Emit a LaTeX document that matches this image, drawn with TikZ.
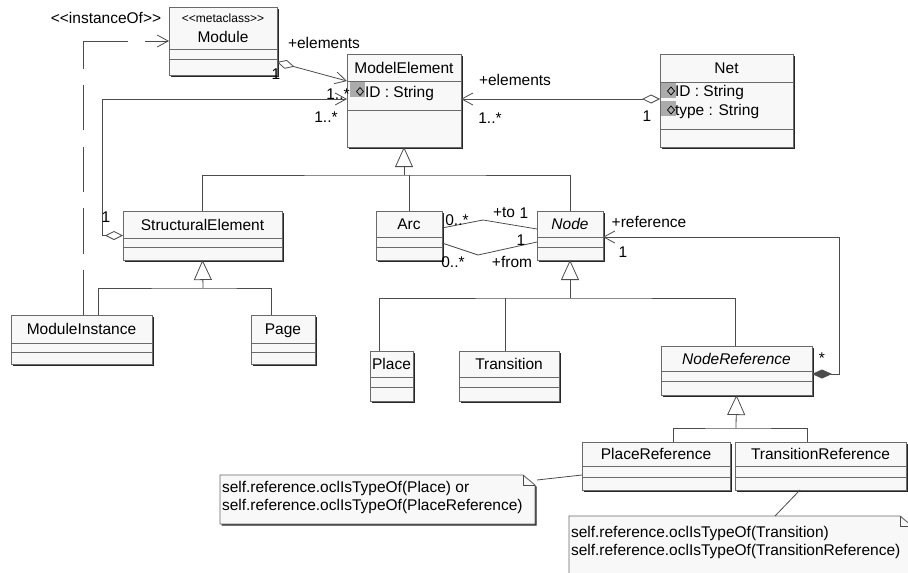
\documentclass[tikz,border=0pt]{standalone}
\usepackage{fontspec}
\setmainfont{Liberation Sans}
\usetikzlibrary{arrows.meta,fit,calc}

\definecolor{boxfill}{HTML}{F8F8F8}
\definecolor{boxline}{HTML}{6A6A6A}
\definecolor{wire}{HTML}{4C4C4C}
\definecolor{attrmark}{HTML}{ABABAB}

\newcommand{\umlfont}{\fontsize{15.5pt}{18pt}\selectfont}

\tikzset{
  classbox/.style={draw=boxline, fill=boxfill, line width=0.9pt, inner sep=0pt, outer sep=0pt},
  boxshadow/.style={fill=black!85},
  divider/.style={draw=boxline, line width=0.9pt},
  lbl/.style={inner sep=0pt, outer sep=0pt, text=black, font=\umlfont, text height=11pt, text depth=0pt},
  conn/.style={draw=wire, line width=0.8pt},
  gentip/.style={conn, -{Triangle[open, length=20pt, width=18pt]}},
  navtip/.style={conn, -{Straight Barb[length=11pt, width=12pt]}},
  aggnav/.style={conn, {Diamond[open, length=18pt, width=9pt]}-{Straight Barb[length=11pt, width=12pt]}},
  compnav/.style={conn, {Diamond[length=20pt, width=9pt]}-{Straight Barb[length=11pt, width=12pt]}},
  attrdiamond/.style={draw=black, line width=0.7pt},
  notebox/.style={draw=boxline, fill=boxfill, line width=0.9pt},
  hidden/.style={inner sep=0pt, outer sep=0pt},
}

% class box: name, left, top, right, bottom, first divider, second divider, title
\newcommand{\umlclass}[8]{%
  \fill[boxshadow] (#2+1.5,#3+1.5) rectangle (#4+1.5,#5+1.5);
  \node[classbox, fit={(#2,#3) (#4,#5)}] (#1) {};
  \draw[divider] (#2,#6) -- (#4,#6) (#2,#7) -- (#4,#7);
  \node[lbl] (#1-name) at ({(#2+#4)/2},{(#3+#6)/2}) {#8};
}

% note with folded corner: name, left, top, right, bottom
\newcommand{\umlnote}[5]{%
  \fill[boxshadow] (#2+1.5,#3+1.5) -- (#4-12+1.5,#3+1.5) -- (#4+1.5,#3+10+1.5) -- (#4+1.5,#5+1.5) -- (#2+1.5,#5+1.5) -- cycle;
  \draw[notebox] (#2,#3) -- (#4-12,#3) -- (#4,#3+10) -- (#4,#5) -- (#2,#5) -- cycle;
  \draw[conn, line width=0.7pt] (#4-12,#3) -- (#4-12,#3+10) -- (#4,#3+10);
  \node[hidden, fit={(#2,#3) (#4,#5)}] (#1) {};
}

% attribute marker: gray square with a small hollow diamond
\newcommand{\attrmark}[4]{%
  \fill[attrmark] (#1,#2) rectangle (#1+15,#2+15);
  \draw[attrdiamond] (#3-3.5,#4) -- (#3,#4-4) -- (#3+3.5,#4) -- (#3,#4+4) -- cycle;
}

\begin{document}
\begin{tikzpicture}[x=1pt, y=-1pt, font=\umlfont]
\useasboundingbox (0,0) rectangle (908,573);
\fill[white] (0,0) rectangle (908,573);
\clip (0,0) rectangle (908,573);

% ---- Module (metaclass) ----
\fill[boxshadow] (170.5,8.5) rectangle (278.5,76.5);
\node[classbox, fit={(169,7) (277,75)}] (module) {};
\draw[divider] (169,49) -- (277,49) (169,59) -- (277,59);
\node[lbl, font=\fontsize{12pt}{14pt}\selectfont, text height=8.5pt] (module-st) at (223,18) {<{}<metaclass>{}>};
\node[lbl] (module-name) at (223,37) {Module};

% ---- classes ----
\umlclass{me}{347}{54}{461}{147}{81}{110}{ModelElement}
\umlclass{net}{660}{54}{793}{147}{82}{129}{Net}
\umlclass{se}{123}{211}{282}{260}{238}{247}{StructuralElement}
\umlclass{arc}{376}{211}{442}{260}{237}{247}{Arc}
\umlclass{node}{537}{211}{603}{260}{237}{247}{\itshape Node}
\umlclass{mi}{11}{315}{152}{364}{343}{352}{ModuleInstance}
\umlclass{page}{251}{315}{315}{364}{343}{352}{Page}
\umlclass{place}{370}{351}{413}{401}{377}{387}{Place}
\umlclass{trans}{459}{351}{559}{401}{377}{387}{Transition}
\umlclass{nref}{661}{346}{812}{395}{371}{381}{\itshape NodeReference}
\umlclass{pref}{582}{442}{730}{490}{466}{477}{PlaceReference}
\umlclass{tref}{735}{442}{906}{490}{466}{477}{TransitionReference}

% ---- attributes ----
\attrmark{350}{82}{360}{91.5}
\node[lbl, anchor=west] (me-id) at (365,92) {ID : String};
\attrmark{661}{83}{671}{91}
\node[lbl, anchor=west] (net-id) at (675,91) {ID : String};
\attrmark{661}{101}{671}{110}
\node[lbl, anchor=west] (net-type) at (675,110) {type : String};

% ---- instanceOf dependency ----
\node[lbl] (inst-lbl) at (106,18) {<{}<instanceOf>{}>};
\coordinate (instTurn) at (83,41);
\draw[conn, dash pattern=on 28pt off 16pt on 45pt off 17pt on 45pt off 16pt on 46pt off 16pt on 80pt off 1pt]
  (instTurn) -- (instTurn |- mi.north);
\draw[navtip, dash pattern=on 45pt off 17pt on 60pt off 1pt]
  (instTurn) -- (instTurn -| module.west);

% ---- associations to ModelElement ----
\draw[aggnav] ($(module.north east)+(0,55)$) -- ($(me.north west)+(0,27)$);
\node[lbl] (mod-role) at (324,43) {+elements};
\node[lbl] (mod-one) at (276,74) {1};
\node[lbl] (mod-many) at (338,94) {1..*};

\draw[aggnav] ($(net.north west)+(0,45)$) -- ($(me.north east)+(0,45)$);
\node[lbl] (net-role) at (515,80) {+elements};
\node[lbl] (net-many) at (490,118) {1..*};
\node[lbl] (net-one) at (647,116) {1};

\coordinate (seTurn) at (102,99);
\draw[aggnav] (se.west) -| (seTurn) -- (seTurn -| me.west);
\node[lbl] (se-one) at (106,217) {1};
\node[lbl] (se-many) at (326,117) {1..*};

% ---- generalizations ----
\coordinate (g1) at (404,175);
\draw[gentip] (g1) -- (me.south);
\draw[conn] (se.north) |- (g1) -| (node.north);
\draw[conn] (arc.north) -- (arc.north |- g1);

\coordinate (g2) at (203,288);
\draw[gentip] (g2) -- (se.south);
\draw[conn] ($(mi.north west)+(87,0)$) |- (g2) -| ($(page.north west)+(20,0)$);

\coordinate (g3) at (570,298);
\draw[gentip] (g3) -- (node.south);
\draw[conn] ($(place.north west)+(9,0)$) |- (g3) -| ($(nref.north west)+(74,0)$);
\coordinate (transTop) at ($(trans.north west)+(46,0)$);
\draw[conn] (transTop) -- (transTop |- g3);

\coordinate (g4) at (736,428);
\draw[gentip] (g4) -- (nref.south);
\draw[conn] ($(pref.north west)+(91,0)$) |- (g4) -| ($(tref.north west)+(72,0)$);

% ---- Arc to Node ----
\coordinate (toBend) at (483,220);
\coordinate (fromBend) at (478,255);
\draw[conn] ($(arc.north east)+(0,17)$) -- (toBend) -- ($(node.north west)+(0,18)$);
\draw[conn] ($(arc.north east)+(0,32)$) -- (fromBend) -- ($(node.north west)+(0,31)$);
\node[lbl] (to-many) at (457,220) {0..*};
\node[lbl] (to-role) at (504,212) {+to};
\node[lbl] (to-one) at (524,213) {1};
\node[lbl] (from-one) at (521,240) {1};
\node[lbl] (from-many) at (453,262) {0..*};
\node[lbl] (from-role) at (512,262) {+from};

% ---- NodeReference to Node ----
\coordinate (refTurn) at (839,237);
\draw[compnav] ($(nref.north east)+(0,28)$) -| (refTurn) -- (refTurn -| node.east);
\node[lbl] (ref-role) at (649,222) {+reference};
\node[lbl] (ref-one) at (623,252) {1};
\node[lbl] (ref-many) at (822,358) {*};

% ---- constraint notes ----
\umlnote{note1}{220}{475}{535}{524}
\node[lbl, anchor=west] (note1-a) at (222,487) {self.reference.oclIsTypeOf(Place) or};
\node[lbl, anchor=west] (note1-b) at (222,505) {self.reference.oclIsTypeOf(PlaceReference)};
\draw[conn] ($(note1.north east)+(2,5)$) -- ($(pref.north west)+(0,33)$);

\umlnote{note2}{569}{516}{912}{600}
\node[lbl, anchor=west] (note2-a) at (571,532) {self.reference.oclIsTypeOf(Transition)};
\node[lbl, anchor=west] (note2-b) at (571,550) {self.reference.oclIsTypeOf(TransitionReference)};
\draw[conn] ($(note2.north west)+(206,0)$) -- ($(tref.south west)+(65,0)$);
\end{tikzpicture}
\end{document}
